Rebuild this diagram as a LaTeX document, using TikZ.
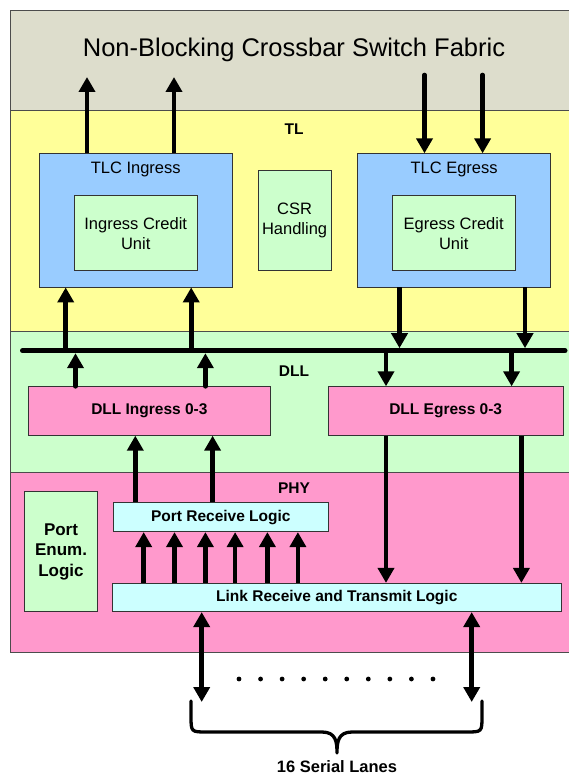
\documentclass[tikz,border=0pt]{standalone}
\usepackage{fontspec}
\setmainfont{Liberation Sans}
\usetikzlibrary{arrows.meta}

\definecolor{fabricgray}{RGB}{221,221,204}
\definecolor{tlyellow}{RGB}{255,255,153}
\definecolor{dllgreen}{RGB}{204,255,204}
\definecolor{phypink}{RGB}{255,153,204}
\definecolor{tlcblue}{RGB}{153,204,255}
\definecolor{logiccyan}{RGB}{204,255,255}

\begin{document}
\begin{tikzpicture}[x=1pt,y=-1pt,
		band/.style={draw=black!70,line width=0.8pt,anchor=north west,minimum width=570pt,inner sep=0pt},
		box/.style={draw=black!80,line width=0.8pt,inner sep=0pt,align=center},
		regtxt/.style={font=\fontsize{16.5}{20}\selectfont},
		boldtxt/.style={font=\fontsize{15.5}{20}\selectfont\bfseries},
		arr/.style={line width=4.6pt,-{Triangle[width=16pt,length=15pt]}},
		dblarr/.style={line width=4.6pt,{Triangle[width=16pt,length=15pt]}-{Triangle[width=16pt,length=15pt]}},
		bus/.style={line width=5pt,line cap=round}]
		\useasboundingbox (0,0) rectangle (569,775);
		% layer bands
		\node[band,fill=fabricgray,minimum height=100pt] (fabric) at (10,10) {};
		\node[band,fill=tlyellow,minimum height=221pt] (tl) at (10,110) {};
		\node[band,fill=dllgreen,minimum height=140.7pt] (dll) at (10,331) {};
		\node[band,fill=phypink,minimum height=180.3pt] (phy) at (10,471.7) {};
		\node[font=\fontsize{25.5}{30}\selectfont] (title) at (294,50) {Non-Blocking Crossbar Switch Fabric};
		\node[boldtxt] (tllbl) at (294,129) {TL};
		\node[boldtxt] (dlllbl) at (294,371) {DLL};
		\node[boldtxt] (phylbl) at (294,488) {PHY};
		% TL blocks
		\node[box,fill=tlcblue,minimum width=193pt,minimum height=133.3pt] (tlcin) at (135.7,220.4) {};
		\node[regtxt] (tlcinlbl) at (135.7,169.5) {TLC Ingress};
		\node[box,regtxt,fill=dllgreen,minimum width=123.4pt,minimum height=75pt] (icu) at (135.7,233.2) {Ingress Credit\\Unit};
		\node[box,regtxt,fill=dllgreen,minimum width=72.7pt,minimum height=100.4pt] (csr) at (294.6,220.5) {CSR\\Handling};
		\node[box,fill=tlcblue,minimum width=192.6pt,minimum height=133.3pt] (tlceg) at (454.1,220.4) {};
		\node[regtxt] (tlceglbl) at (454.1,169.5) {TLC Egress};
		\node[box,regtxt,fill=dllgreen,minimum width=123pt,minimum height=75pt] (ecu) at (453.7,233.2) {Egress Credit\\Unit};
		% DLL blocks
		\node[box,boldtxt,fill=phypink,minimum width=242.7pt,minimum height=48.6pt] (dllin) at (149.4,411) {DLL Ingress 0-3};
		\node[box,boldtxt,fill=phypink,minimum width=234.6pt,minimum height=48.6pt] (dlleg) at (445.7,411) {DLL Egress 0-3};
		% PHY blocks
		\node[box,fill=dllgreen,font=\fontsize{17}{20.5}\selectfont\bfseries,minimum width=72.5pt,minimum height=120pt] (penum) at (61,551.7) {Port\\Enum.\\Logic};
		\node[box,boldtxt,fill=logiccyan,minimum width=215.2pt,minimum height=29pt] (prl) at (220.8,517.2) {Port Receive Logic};
		\node[box,boldtxt,fill=logiccyan,minimum width=448.5pt,minimum height=28.4pt] (link) at (336.8,597.5) {Link Receive and Transmit Logic};
		% bus
		\coordinate (busW) at (22.5,350.7);
		\coordinate (busE) at (565,350.7);
		\draw[bus] (busW) -- (busE);
		% fabric ports
		\coordinate (fabout) at (0,77);
		\coordinate (fabin) at (0,75);
		\foreach \x in {87,174}
		{
			\draw[arr] (tlcin.north -| \x,0) -- (fabout -| \x,0);
		}
		\foreach \x in {424.5,482.6}
		{
			\draw[arr,line cap=round] (fabin -| \x,0) -- (tlceg.north -| \x,0);
		}
		% TL <-> bus
		\foreach \x in {65.7,191.2}
		{
			\draw[arr] (busW -| \x,0) -- (tlcin.south -| \x,0);
		}
		\foreach \x in {399.5,525}
		{
			\draw[arr,shorten >=2.5pt] (tlceg.south -| \x,0) -- (busW -| \x,0);
		}
		% DLL <-> bus
		\foreach \x in {75.5,205.4}
		{
			\draw[arr,shorten >=2.5pt,line cap=round] (dllin.north -| \x,0) -- (busW -| \x,0);
		}
		\foreach \x in {386,511.6}
		{
			\draw[arr] (busW -| \x,0) -- (dlleg.north -| \x,0);
		}
		% PHY <-> DLL
		\foreach \x in {135.3,212.6}
		{
			\draw[arr] (prl.north -| \x,0) -- (dllin.south -| \x,0);
		}
		\foreach \x in {386,521.4}
		{
			\draw[arr] (dlleg.south -| \x,0) -- (link.north -| \x,0);
		}
		\foreach \x in {143.7,174.5,205.4,235.1,267.4,297.9}
		{
			\draw[arr] (link.north -| \x,0) -- (prl.south -| \x,0);
		}
		% serial lanes
		\coordinate (lanes) at (0,702);
		\foreach \x in {201.7,471.7}
		{
			\draw[dblarr] (link.south -| \x,0) -- (lanes -| \x,0);
		}
		\foreach \i in {0,1,...,9}
		{
			\fill (239 + \i*21.55,679) circle (2.4pt);
		}
		\draw[line width=3.3pt,line cap=round,line join=round]
			(191,701) -- (191,716) .. controls (191,732) .. (207,732)
			-- (322,732) .. controls (336,732) and (337,742) .. (337,753)
			.. controls (337,742) and (338,732) .. (352,732)
			-- (466,732) .. controls (482,732) .. (482,716) -- (482,701);
		\node[font=\fontsize{16.5}{20}\selectfont\bfseries] (laneslbl) at (337,767) {16 Serial Lanes};
	\end{tikzpicture}
\end{document}
